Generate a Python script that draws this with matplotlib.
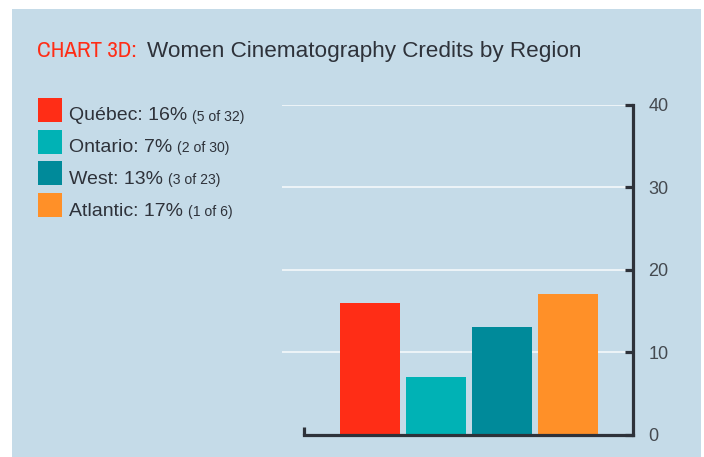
"""Chart 3D: share of cinematography credits held by women, by region."""

import matplotlib
matplotlib.use("Agg")
import matplotlib.pyplot as plt
from matplotlib import font_manager
from matplotlib.patches import Rectangle

# Data.
regions = ["Québec", "Ontario", "West", "Atlantic"]
women_credits = [5, 2, 3, 1]
total_credits = [32, 30, 23, 6]
pct_women = [16, 7, 13, 17]
y_ticks = [0, 10, 20, 30, 40]

COLORS = ["#ff2d16", "#00b2b5", "#008a9a", "#ff9028"]
PANEL = "#c5dbe8"
INK = "#2e323a"
TICK_INK = "#454a50"

W, H = 704, 457
plt.rcParams["font.family"] = ["Liberation Sans", "DejaVu Sans"]


def px(size_px):
    return size_px * 72 / 100


# the red tag in the reference is set in a narrow face; use one if installed
narrow = sorted({f.name for f in font_manager.fontManager.ttflist
                 if "Narrow" in f.name or "Condensed" in f.name})
tag_family = [narrow[0], "Liberation Sans"] if narrow else ["Liberation Sans"]
tag_size = 23 if narrow else 19.5

fig = plt.figure(figsize=(W / 100, H / 100), dpi=100, facecolor="white")

# light-blue panel with a thin white margin top/left/right
fig.patches.append(Rectangle((12 / W, 0), (701 - 12) / W, (H - 9) / H,
                             transform=fig.transFigure, facecolor=PANEL,
                             edgecolor="none", zorder=-5))

fig.canvas.draw()
renderer = fig.canvas.get_renderer()

# title: condensed red tag, then the regular title
title_y = 1 - 57 / H
tag = fig.text(37 / W, title_y, "CHART 3D:", color="#ff2d16",
               family=tag_family, fontsize=px(tag_size), va="baseline")
bb = tag.get_window_extent(renderer)
fig.text((bb.x1 + 10) / W, title_y, "Women Cinematography Credits by Region",
         color=INK, fontsize=px(22.5), va="baseline")

# legend block on the left
for i, (name, w, t, p) in enumerate(zip(regions, women_credits,
                                        total_credits, pct_women)):
    top = 98 + 31.7 * i
    fig.patches.append(Rectangle((38 / W, 1 - (top + 24) / H), 24 / W, 24 / H,
                                 transform=fig.transFigure,
                                 facecolor=COLORS[i], edgecolor="none"))
    base = 1 - (top + 22.5) / H
    main = fig.text(69 / W, base, f"{name}: {p}%", color=INK,
                    fontsize=px(19.5), va="baseline")
    bb = main.get_window_extent(renderer)
    fig.text((bb.x1 + 5) / W, base, f"({w} of {t})", color=INK,
             fontsize=px(14), va="baseline")

# bar chart on the right
ax = fig.add_axes([282 / W, 1 - 434.5 / H, (633 - 282) / W, (434.5 - 104.7) / H])
ax.set_facecolor("none")
x = list(range(len(regions)))
ax.bar(x, pct_women, width=0.91, color=COLORS, zorder=2)

ax.set_xlim(-1.333, 3.985)
ax.set_ylim(y_ticks[0], y_ticks[-1])
ax.set_yticks(y_ticks)
ax.yaxis.tick_right()
# white guide lines, none at zero (the baseline covers it)
for yv in y_ticks[1:]:
    ax.axhline(yv, color="#eef4f8", linewidth=1.4, zorder=1)

for side in ("left", "top"):
    ax.spines[side].set_visible(False)
for side in ("bottom", "right"):
    ax.spines[side].set_color(INK)
    ax.spines[side].set_linewidth(2.3)
    ax.spines[side].set_capstyle("projecting")
ax.spines["bottom"].set_bounds(-1.0, 3.985)

ax.tick_params(axis="y", direction="in", length=6, width=2.3, color=INK,
               pad=11, labelsize=px(18), labelcolor=TICK_INK)
# a short upturned end on the left of the baseline
ax.set_xticks([-1.0])
ax.tick_params(axis="x", direction="in", length=5.5, width=2.3, color=INK,
               labelbottom=False)

fig.savefig("out.png", dpi=100, facecolor="white")
